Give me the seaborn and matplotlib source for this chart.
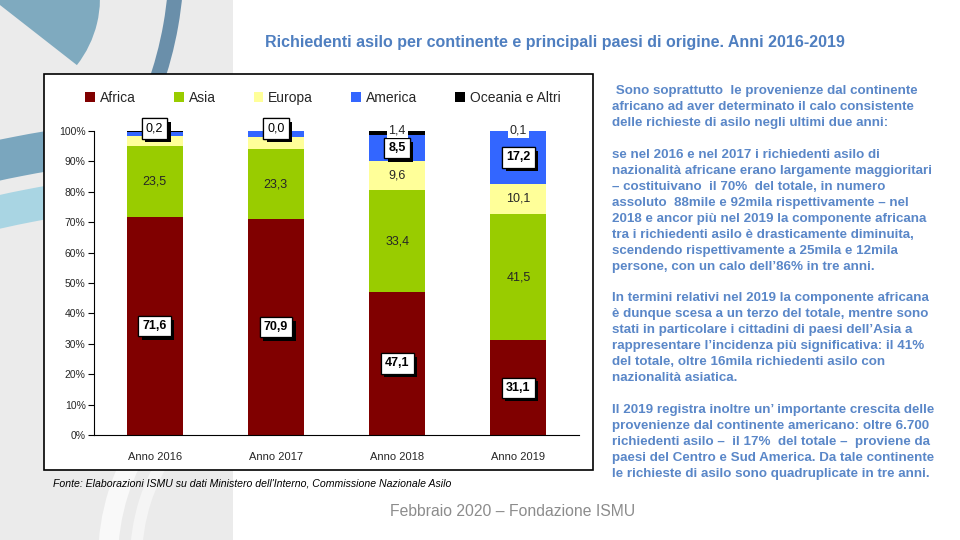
import numpy as np
import pandas as pd
import matplotlib
matplotlib.use("Agg")
import matplotlib.pyplot as plt
import matplotlib.patches as mpatches
import matplotlib.patheffects as pe
import seaborn as sns

# --- data (quote % sul totale delle richieste) ---
anni = ["Anno 2016", "Anno 2017", "Anno 2018", "Anno 2019"]
continenti = ["Africa", "Asia", "Europa", "America", "Oceania e Altri"]
africa = [71.6, 70.9, 47.1, 31.1]
asia = [23.5, 23.3, 33.4, 41.5]
europa = [3.3, 3.9, 9.6, 10.1]
america = [1.4, 1.9, 8.5, 17.2]
oceania = [0.2, 0.0, 1.4, 0.1]
colori = ["#800000", "#99CC00", "#FFFF99", "#3366FF", "#000000"]

titolo = "Richiedenti asilo per continente e principali paesi di origine. Anni 2016-2019"
fonte = "Fonte: Elaborazioni ISMU su dati Ministero dell'Interno, Commissione Nazionale Asilo"
piede = "Febbraio 2020 – Fondazione ISMU"
commento = [
    " Sono soprattutto  le provenienze dal continente",
    "africano ad aver determinato il calo consistente",
    "delle richieste di asilo negli ultimi due anni:",
    "",
    "se nel 2016 e nel 2017 i richiedenti asilo di",
    "nazionalità africane erano largamente maggioritari",
    "– costituivano  il 70%  del totale, in numero",
    "assoluto  88mile e 92mila rispettivamente – nel",
    "2018 e ancor più nel 2019 la componente africana",
    "tra i richiedenti asilo è drasticamente diminuita,",
    "scendendo rispettivamente a 25mila e 12mila",
    "persone, con un calo dell’86% in tre anni.",
    "",
    "In termini relativi nel 2019 la componente africana",
    "è dunque scesa a un terzo del totale, mentre sono",
    "stati in particolare i cittadini di paesi dell’Asia a",
    "rappresentare l’incidenza più significativa: il 41%",
    "del totale, oltre 16mila richiedenti asilo con",
    "nazionalità asiatica.",
    "",
    "Il 2019 registra inoltre un’ importante crescita delle",
    "provenienze dal continente americano: oltre 6.700",
    "richiedenti asilo –  il 17%  del totale –  proviene da",
    "paesi del Centro e Sud America. Da tale continente",
    "le richieste di asilo sono quadruplicate in tre anni.",
]

sns.set_theme(style="white")
plt.rcParams["font.family"] = ["Liberation Sans", "DejaVu Sans"]

W, H = 960, 540
fig = plt.figure(figsize=(9.6, 5.4), dpi=100)
fig.patch.set_facecolor("white")

# --- slide background (pixel coords, y down) ---
bg = fig.add_axes([0, 0, 1, 1], zorder=-10)
bg.set_xlim(0, W)
bg.set_ylim(H, 0)
bg.axis("off")
bg.add_patch(mpatches.Rectangle((0, 0), 233, H, color="#EBEBEB", lw=0))
clip = mpatches.Rectangle((0, 0), 233, H, transform=bg.transData)
decor = [
    mpatches.Wedge((-9, -2), 109, -60, 38, color="#7FAABF", lw=0),
    mpatches.Wedge((-198, -40), 382, -10, 30, width=15, color="#6A8FAA", lw=0),
    mpatches.Wedge((250, 1346), 1232, -112, -90, width=40, color="#7AA6BE", lw=0),
    mpatches.Wedge((250, 1346), 1178, -112, -90, width=33, color="#A9D5E3", lw=0),
    mpatches.Wedge((330, 560), 232, 180, 215, width=20, color="white", alpha=0.7, lw=0),
    mpatches.Wedge((330, 560), 200, 180, 215, width=12, color="white", alpha=0.5, lw=0),
]
for p in decor:
    bg.add_patch(p)
    p.set_clip_path(clip)

# chart frame
bg.add_patch(mpatches.Rectangle((44, 74), 549, 396, fc="white", ec="black", lw=1.2))

# --- stacked bars ---
ax = fig.add_axes([94 / W, 1 - 435 / H, 485 / W, 304 / H])
ax.set_facecolor("white")
serie = [africa, asia, europa, america, oceania]
base = np.zeros(len(anni))
for nome, valori, col in zip(continenti, serie, colori):
    df = pd.DataFrame({"anno": anni, "quota": valori})
    sns.barplot(data=df, x="anno", y="quota", bottom=base, color=col,
                width=0.46, saturation=1, ax=ax, label=nome, linewidth=0)
    base = base + np.array(valori)

def fmt(v):
    return f"{v:.1f}".replace(".", ",")

def box_label(x, y, v, bold):
    t = ax.text(x, y, fmt(v), ha="center", va="center", fontsize=9,
                fontweight="bold" if bold else "normal", color="black",
                bbox=dict(boxstyle="square,pad=0.33", fc="white", ec="black", lw=0.9),
                zorder=6)
    t.get_bbox_patch().set_path_effects(
        [pe.withSimplePatchShadow(offset=(2.5, -2.5), shadow_rgbFace="black", alpha=1),
         pe.Normal()])

for i in range(len(anni)):
    a, s, e, m, o = africa[i], asia[i], europa[i], america[i], oceania[i]
    box_label(i, a / 2, a, True)
    ax.text(i, a + s / 2, fmt(s), ha="center", va="center", fontsize=9, zorder=6)
    if e > 5:
        ax.text(i, a + s + e / 2, fmt(e), ha="center", va="center", fontsize=9, zorder=6)
    if m > 5:
        box_label(i, a + s + e + m / 2, m, True)
    if i < 2:
        box_label(i, 100.8, o, False)
    else:
        ax.text(i, 100.3, fmt(o), ha="center", va="center", fontsize=9, zorder=7,
                bbox=dict(boxstyle="square,pad=0.15", fc="white", ec="none"))

ax.set_ylim(0, 100)
ax.set_xlim(-0.5, 3.5)
ax.set_yticks(np.arange(0, 101, 10))
ax.set_yticklabels([f"{v}%" for v in range(0, 101, 10)], fontsize=7.5)
ax.set_xticks(range(4))
ax.set_xticklabels(anni, fontsize=8)
ax.set_xticks(np.arange(-0.5, 4, 1), minor=True)
ax.tick_params(axis="x", which="major", length=0, pad=12)
ax.tick_params(axis="x", which="minor", length=4, direction="out", color="black", width=0.8)
ax.tick_params(axis="y", length=4, direction="out", color="black", width=0.8, pad=2, left=True)
ax.set_xlabel("")
ax.set_ylabel("")
for sp in ["top", "right"]:
    ax.spines[sp].set_visible(False)
for sp in ["left", "bottom"]:
    ax.spines[sp].set_color("black")
    ax.spines[sp].set_linewidth(0.8)

handles, labels = ax.get_legend_handles_labels()
fig.legend(handles, labels, loc="center", bbox_to_anchor=(323 / W, 1 - 98 / H),
           ncol=5, frameon=False, fontsize=10, handlelength=0.7, handleheight=0.7,
           columnspacing=2.75, handletextpad=0.35)
if ax.get_legend():
    ax.get_legend().remove()

# --- texts ---
blu = "#5A87C8"
fig.text(555 / W, 1 - 43 / H, titolo, ha="center", va="center", fontsize=11.5,
         fontweight="bold", color="#4F7FC0")
fig.text(53 / W, 1 - 484 / H, fonte, ha="left", va="center", fontsize=7.6,
         style="italic", color="black")
fig.text(513 / W, 1 - 511 / H, piede, ha="center", va="center", fontsize=11.3,
         color="#8C8C8C")
for k, riga in enumerate(commento):
    fig.text(612 / W, 1 - (91 + k * 15.96) / H, riga, ha="left", va="center",
             fontsize=9.6, fontweight="bold", color=blu)

fig.savefig("out.png", dpi=100)
